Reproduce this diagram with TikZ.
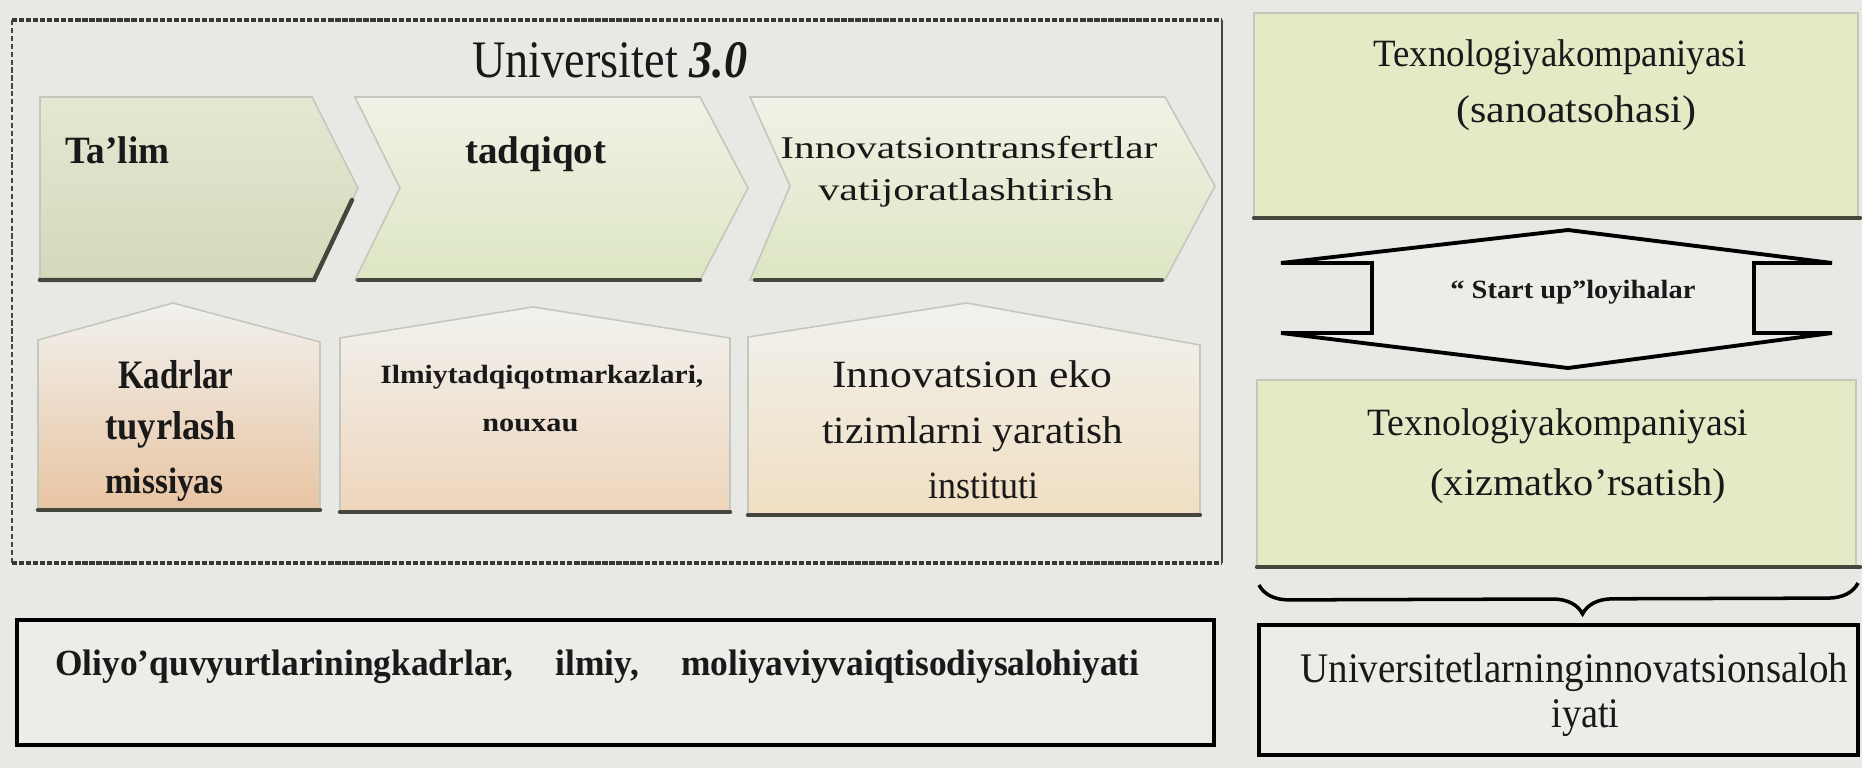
\documentclass[tikz,border=0pt]{standalone}
\usepackage{fontspec}
\setmainfont{Liberation Serif}
\usepackage{graphicx}
\usetikzlibrary{decorations.pathreplacing}
\definecolor{bg}{HTML}{E8E9E4}
\definecolor{boxbg}{HTML}{ECEDE9}
\definecolor{faint}{HTML}{C4C8BC}
\definecolor{darkedge}{HTML}{45473D}
\definecolor{greenA}{HTML}{E3E8D2}
\definecolor{greenB}{HTML}{DDE6C3}
\definecolor{olive}{HTML}{D3DABA}
\definecolor{greenR}{HTML}{E2EBC6}
\definecolor{peachA}{HTML}{E8C4A2}
\definecolor{peachB}{HTML}{EFD5BC}
\definecolor{peachC}{HTML}{F0DFC2}
\newcommand{\fw}[3]{\resizebox{\dimexpr0.02cm*#1\relax}{\height}{\fontsize{#2}{#2}\selectfont #3}}
\begin{document}
\begin{tikzpicture}[x=0.02cm,y=-0.02cm,
  txt/.style={inner sep=0pt, anchor=base west, text=black!90},
  softline/.style={draw=faint, line width=0.9pt},
  hardline/.style={draw=darkedge, line width=2.5pt, line cap=round},
  blackbox/.style={draw=black, line width=2.3pt, fill=boxbg},
  frameedge/.style={draw=darkedge!80!black, line width=2.2pt, dash pattern=on 3pt off 1pt},
  frameside/.style={draw=darkedge, line width=0.9pt, dash pattern=on 3pt off 1.5pt},
  arrowline/.style={draw=black, line width=2.2pt, line join=miter, fill=boxbg}
]
\useasboundingbox (0,0) rectangle (1862,768);
\fill[bg] (0,0) rectangle (1862,768);

% ---------- frame of Universitet 3.0 ----------
\coordinate (fTL) at (12,20);
\coordinate (fTR) at (1222,20);
\coordinate (fBL) at (12,563);
\coordinate (fBR) at (1222,563);
\draw[frameedge] (fTL) -- (fTR);
\draw[frameedge] (fBL) -- (fBR);
\draw[frameside] (fTL) -- (fBL);
\draw[darkedge, line width=1.4pt] (fTR) -- (fBR);

\node[txt] (title) at (472,77) {\fw{275}{30}{Universitet \textbf{\textit{3.0}}}};

% ---------- chevrons ----------
\shade[top color=greenA, bottom color=olive] (40,97) -- (312,97) -- (358,188) -- (314,280) -- (40,280) -- cycle;
\draw[softline] (40,97) -- (312,97) -- (358,188) -- (314,280) -- (40,280) -- cycle;
\draw[hardline] (40,280) -- (314,280) -- (352,200);

\shade[top color=greenA!55!white, bottom color=greenB] (355,97) -- (700,97) -- (748,188) -- (700,280) -- (355,280) -- (400,188) -- cycle;
\draw[softline] (355,97) -- (700,97) -- (748,188) -- (700,280) -- (355,280) -- (400,188) -- cycle;
\draw[hardline] (358,280) -- (700,280);

\shade[top color=greenA!55!white, bottom color=greenB] (750,97) -- (1165,97) -- (1215,186) -- (1165,280) -- (750,280) -- (790,186) -- cycle;
\draw[softline] (750,97) -- (1165,97) -- (1215,186) -- (1165,280) -- (750,280) -- (790,186) -- cycle;
\draw[hardline] (755,280) -- (1162,280);

\node[txt] (talim) at (65,163) {\fw{104}{22}{\bfseries Ta'lim}};
\node[txt] (tadqiqot) at (465,163) {\fw{141}{22}{\bfseries tadqiqot}};
\node[txt] (innov1) at (780,158) {\fw{377}{18}{Innovatsiontransfertlar}};
\node[txt] (innov2) at (818,200) {\fw{295}{18}{vatijoratlashtirish}};

% ---------- lower house boxes ----------
\shade[top color=bg!60!white, bottom color=peachA] (38,510) -- (38,340) -- (173,303) -- (320,342) -- (320,510) -- cycle;
\draw[softline] (38,510) -- (38,340) -- (173,303) -- (320,342) -- (320,510);
\draw[hardline] (38,510) -- (320,510);

\shade[top color=bg!60!white, bottom color=peachB] (340,512) -- (340,338) -- (533,307) -- (730,338) -- (730,512) -- cycle;
\draw[softline] (340,512) -- (340,338) -- (533,307) -- (730,338) -- (730,512);
\draw[hardline] (340,512) -- (730,512);

\shade[top color=bg!60!white, bottom color=peachC] (748,515) -- (748,337) -- (967,303) -- (1200,345) -- (1200,515) -- cycle;
\draw[softline] (748,515) -- (748,337) -- (967,303) -- (1200,345) -- (1200,515);
\draw[hardline] (748,515) -- (1200,515);

\node[txt] (kad1) at (118,388) {\fw{115}{23}{\bfseries Kadrlar}};
\node[txt] (kad2) at (105,439) {\fw{130}{23}{\bfseries tuyrlash}};
\node[txt] (kad3) at (105,493) {\fw{118}{21}{\bfseries missiyas}};

\node[txt] (ilm1) at (380,383) {\fw{323}{15}{\bfseries Ilmiytadqiqotmarkazlari,}};
\node[txt] (ilm2) at (482,431) {\fw{96}{15}{\bfseries nouxau}};

\node[txt] (eko1) at (832,387) {\fw{280}{22}{Innovatsion eko}};
\node[txt] (eko2) at (822,443) {\fw{301}{22}{tizimlarni yaratish}};
\node[txt] (eko3) at (928,498) {\fw{110}{22}{instituti}};

% ---------- bottom left box ----------
\draw[blackbox] (17,620) rectangle (1214,745);
\node[txt] (oliy) at (55,675) {\fw{1084}{21}{\bfseries Oliyo'quvyurtlariningkadrlar,\hspace{1.2em}ilmiy,\hspace{1.2em}moliyaviyvaiqtisodiysalohiyati}};

% ---------- right column ----------
\fill[greenR] (1254,13) rectangle (1858,218);
\draw[softline] (1254,218) -- (1254,13) -- (1858,13) -- (1858,218);
\draw[hardline] (1254,218) -- (1860,218);
\node[txt] (tex1a) at (1373,66) {\fw{373}{22}{Texnologiyakompaniyasi}};
\node[txt] (tex1b) at (1456,122) {\fw{240}{22}{(sanoatsohasi)}};

\path[arrowline] (1281,263) -- (1568,230) -- (1832,263) -- (1754,263) -- (1754,333) -- (1832,333)
  -- (1568,368) -- (1281,333) -- (1372,333) -- (1372,263) -- cycle;
\node[txt] (startup) at (1450,298) {\fw{245}{15}{\bfseries `` Start up''loyihalar}};

\fill[greenR] (1257,380) rectangle (1856,567);
\draw[softline] (1257,567) -- (1257,380) -- (1856,380) -- (1856,567);
\draw[hardline] (1257,567) -- (1860,567);
\node[txt] (tex2a) at (1367,435) {\fw{381}{22}{Texnologiyakompaniyasi}};
\node[txt] (tex2b) at (1430,495) {\fw{296}{22}{(xizmatko'rsatish)}};

\coordinate (brR) at (1858,583);
\coordinate (brL) at (1259,585);
\draw[black, line width=2pt, decorate, decoration={brace, amplitude=0.6cm, aspect=0.46}] (brR) -- (brL);

\draw[blackbox] (1259,625) rectangle (1858,755);
\node[txt] (univ1) at (1300,682) {\fw{548}{24}{Universitetlarninginnovatsionsaloh}};
\node[txt] (univ2) at (1551,727) {\fw{68}{24}{iyati}};
\end{tikzpicture}
\end{document}
